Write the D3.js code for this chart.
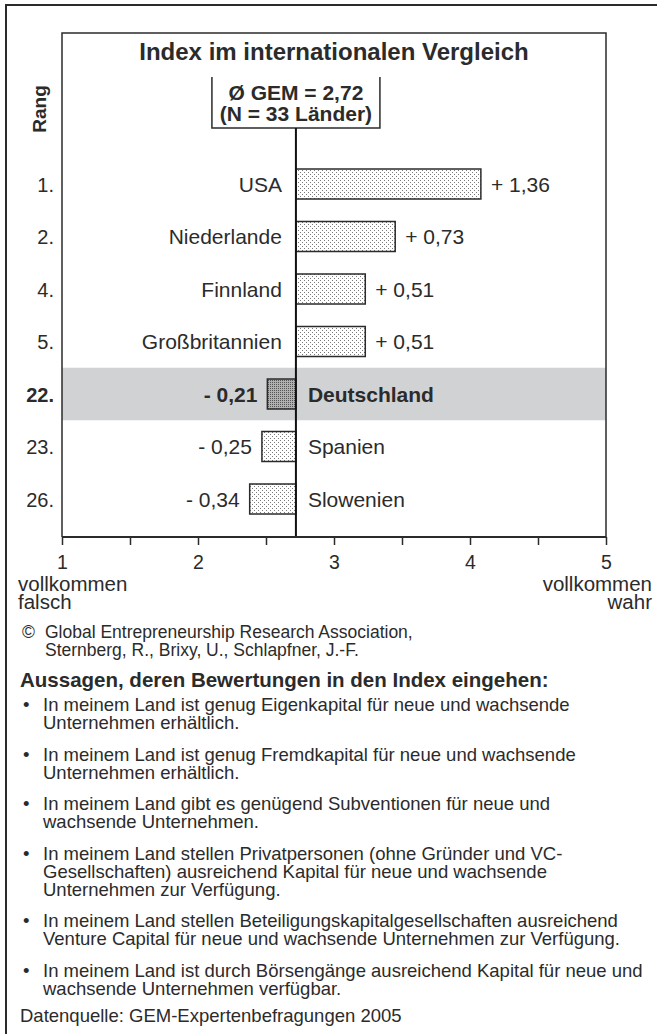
<!DOCTYPE html>
<html>
<head>
<meta charset="utf-8">
<script src="https://cdn.jsdelivr.net/npm/d3@7"></script>
<style>
  body { margin: 0; background: #fff; }
  svg { display: block; font-family: "Liberation Sans", Arial, sans-serif; }
</style>
</head>
<body>
<svg id="chart"></svg>
<script>
var width = 657,
  height = 1034;

// chart data
var ranks = ["1.", "2.", "4.", "5.", "22.", "23.", "26."];
var countries = ["USA", "Niederlande", "Finnland", "Großbritannien", "Deutschland", "Spanien", "Slowenien"];
var deviations = [1.36, 0.73, 0.51, 0.51, -0.21, -0.25, -0.34];
var highlight = "Deutschland";
var gemMean = 2.72;
var nCountries = 33;
var tickValues = [1, 1.5, 2, 2.5, 3, 3.5, 4, 4.5, 5];
var scaleEnds = ["vollkommen", "falsch", "vollkommen", "wahr"];

// text below the chart
var credits = ["Global Entrepreneurship Research Association,", "Sternberg, R., Brixy, U., Schlapfner, J.-F."];
var heading = "Aussagen, deren Bewertungen in den Index eingehen:";
var statements = [
  ["In meinem Land ist genug Eigenkapital für neue und wachsende", "Unternehmen erhältlich."],
  ["In meinem Land ist genug Fremdkapital für neue und wachsende", "Unternehmen erhältlich."],
  ["In meinem Land gibt es genügend Subventionen für neue und", "wachsende Unternehmen."],
  ["In meinem Land stellen Privatpersonen (ohne Gründer und VC-", "Gesellschaften) ausreichend Kapital für neue und wachsende", "Unternehmen zur Verfügung."],
  ["In meinem Land stellen Beteiligungskapitalgesellschaften ausreichend", "Venture Capital für neue und wachsende Unternehmen zur Verfügung."],
  ["In meinem Land ist durch Börsengänge ausreichend Kapital für neue und", "wachsende Unternehmen verfügbar."]
];
var source = "Datenquelle: GEM-Expertenbefragungen 2005";

var rows = countries.map(function (c, i) {
  return { country: c, rank: ranks[i], dev: deviations[i] };
});

var de = d3.formatLocale({ decimal: ",", thousands: ".", grouping: [3], currency: ["", " €"] });
var fmt = de.format(".2f");
function signed(v) { return (v < 0 ? "- " : "+ ") + fmt(Math.abs(v)); }

var svg = d3.select("#chart")
  .attr("width", width)
  .attr("height", height);

var ink = "#2b2b2b";
var boxLeft = 62, boxRight = 606, boxTop = 33, axisY = 537;

var x = d3.scaleLinear().domain([1, 5]).range([boxLeft, boxRight]);
var y = d3.scaleBand().domain(countries).range([157.75, 525.25]);

// dotted fills
var defs = svg.append("defs");
var light = defs.append("pattern").attr("id", "dots").attr("width", 4).attr("height", 4)
  .attr("patternUnits", "userSpaceOnUse");
light.append("rect").attr("width", 4).attr("height", 4).attr("fill", "#fff");
light.append("rect").attr("x", 0).attr("y", 0).attr("width", 1).attr("height", 1).attr("fill", "#7a7a7a");
light.append("rect").attr("x", 2).attr("y", 2).attr("width", 1).attr("height", 1).attr("fill", "#7a7a7a");
var dark = defs.append("pattern").attr("id", "dotsDark").attr("width", 2).attr("height", 2)
  .attr("patternUnits", "userSpaceOnUse");
dark.append("rect").attr("width", 2).attr("height", 2).attr("fill", "#b0b0b0");
dark.append("rect").attr("x", 0).attr("y", 0).attr("width", 1).attr("height", 1).attr("fill", "#555");

// outer frame (cut off at right and bottom)
svg.append("path")
  .attr("d", "M6," + height + "V5H" + width)
  .attr("fill", "none").attr("stroke", ink).attr("stroke-width", 2);

// highlighted row
svg.append("rect")
  .attr("x", boxLeft).attr("width", boxRight - boxLeft)
  .attr("y", y(highlight)).attr("height", y.bandwidth())
  .attr("fill", "#d1d2d4");

// inner box
svg.append("path")
  .attr("d", "M" + boxLeft + "," + axisY + "V" + boxTop + "H" + boxRight + "V" + axisY)
  .attr("fill", "none").attr("stroke", ink).attr("stroke-width", 1.5);

svg.append("text")
  .attr("x", (boxLeft + boxRight) / 2).attr("y", 60)
  .attr("text-anchor", "middle").attr("font-weight", "bold").attr("font-size", 24)
  .attr("fill", ink)
  .text("Index im internationalen Vergleich");

svg.append("text")
  .attr("transform", "translate(46,109) rotate(-90)")
  .attr("text-anchor", "middle").attr("font-weight", "bold").attr("font-size", 19)
  .attr("fill", ink)
  .text("Rang");

// mean box
var mx = x(gemMean);
svg.append("path")
  .attr("d", "M" + (mx - 84) + ",77V128H" + (mx + 84) + "V77")
  .attr("fill", "none").attr("stroke", ink).attr("stroke-width", 1.5);
svg.append("text")
  .attr("x", mx).attr("y", 100)
  .attr("text-anchor", "middle").attr("font-weight", "bold").attr("font-size", 21)
  .attr("fill", ink)
  .text("Ø GEM = " + de.format(".2f")(gemMean));
svg.append("text")
  .attr("x", mx).attr("y", 121)
  .attr("text-anchor", "middle").attr("font-weight", "bold").attr("font-size", 21)
  .attr("fill", ink)
  .text("(N = " + nCountries + " Länder)");

// bars
var barH = 30;
svg.append("g").selectAll("rect")
  .data(rows)
  .enter().append("rect")
  .attr("x", function (d) { return x(Math.min(gemMean, gemMean + d.dev)); })
  .attr("width", function (d) { return Math.abs(x(gemMean + d.dev) - x(gemMean)); })
  .attr("y", function (d) { return y(d.country) + (y.bandwidth() - barH) / 2; })
  .attr("height", barH)
  .attr("fill", function (d) { return d.country == highlight ? "url(#dotsDark)" : "url(#dots)"; })
  .attr("stroke", ink).attr("stroke-width", 1.5);

// mean line
svg.append("line")
  .attr("x1", mx).attr("x2", mx).attr("y1", 128).attr("y2", axisY)
  .attr("stroke", "#111").attr("stroke-width", 2);

var labelSize = 21;
function baseline(d) { return y(d.country) + y.bandwidth() / 2 + labelSize * 0.36; }

var labels = svg.append("g").attr("font-size", labelSize).attr("fill", ink);

labels.selectAll(".rank")
  .data(rows)
  .enter().append("text")
  .attr("class", "rank")
  .attr("x", 54).attr("y", baseline)
  .attr("text-anchor", "end")
  .attr("font-size", 20)
  .attr("font-weight", function (d) { return d.country == highlight ? "bold" : null; })
  .text(function (d) { return d.rank; });

labels.selectAll(".country")
  .data(rows)
  .enter().append("text")
  .attr("class", "country")
  .attr("x", function (d) { return d.dev >= 0 ? mx - 14 : mx + 12; })
  .attr("y", baseline)
  .attr("text-anchor", function (d) { return d.dev >= 0 ? "end" : "start"; })
  .attr("font-weight", function (d) { return d.country == highlight ? "bold" : null; })
  .text(function (d) { return d.country; });

labels.selectAll(".value")
  .data(rows)
  .enter().append("text")
  .attr("class", "value")
  .attr("x", function (d) { return d.dev >= 0 ? x(gemMean + d.dev) + 10 : x(gemMean + d.dev) - 10; })
  .attr("y", baseline)
  .attr("text-anchor", function (d) { return d.dev >= 0 ? "start" : "end"; })
  .attr("font-weight", function (d) { return d.country == highlight ? "bold" : null; })
  .text(function (d) { return signed(d.dev); });

// axis
var axis = d3.axisBottom(x)
  .tickValues(tickValues)
  .tickSize(8)
  .tickPadding(10)
  .tickFormat(function (d) { return d % 1 == 0 ? d : ""; });

var ax = svg.append("g")
  .attr("transform", "translate(0," + axisY + ")")
  .call(axis);
ax.select(".domain").attr("stroke", ink).attr("stroke-width", 2).attr("d", "M" + boxLeft + ",0H" + boxRight);
ax.selectAll(".tick line").attr("stroke", ink).attr("stroke-width", 1.5);
ax.selectAll(".tick text").attr("fill", ink).attr("font-size", 19.5)
  .attr("font-family", "Liberation Sans, Arial, sans-serif");

var ends = svg.append("g").attr("font-size", 20.5).attr("fill", ink);
ends.append("text").attr("x", 18).attr("y", 591).text(scaleEnds[0]);
ends.append("text").attr("x", 18).attr("y", 609).text(scaleEnds[1]);
ends.append("text").attr("x", 652).attr("y", 591).attr("text-anchor", "end").text(scaleEnds[2]);
ends.append("text").attr("x", 652).attr("y", 609).attr("text-anchor", "end").text(scaleEnds[3]);

// credits and statements
var notes = svg.append("g").attr("fill", ink).attr("font-size", 17.5);
notes.append("text").attr("x", 22).attr("y", 638).text("©");
notes.append("text").attr("x", 45).attr("y", 638).text(credits[0]);
notes.append("text").attr("x", 45).attr("y", 656).text(credits[1]);

notes.append("text").attr("x", 20).attr("y", 687)
  .attr("font-weight", "bold").attr("font-size", 20.5)
  .text(heading);

var lineH = 18, gap = 31.5, yy = 711;
statements.forEach(function (lines) {
  notes.append("text").attr("x", 23).attr("y", yy).attr("font-size", 18.5).text("•");
  lines.forEach(function (l, j) {
    notes.append("text").attr("x", 43).attr("y", yy + j * lineH).attr("font-size", 18.5).text(l);
  });
  yy += (lines.length - 1) * lineH + gap;
});

notes.append("text").attr("x", 20).attr("y", yy - 4).attr("font-size", 18.5).text(source);
</script>
</body>
</html>
